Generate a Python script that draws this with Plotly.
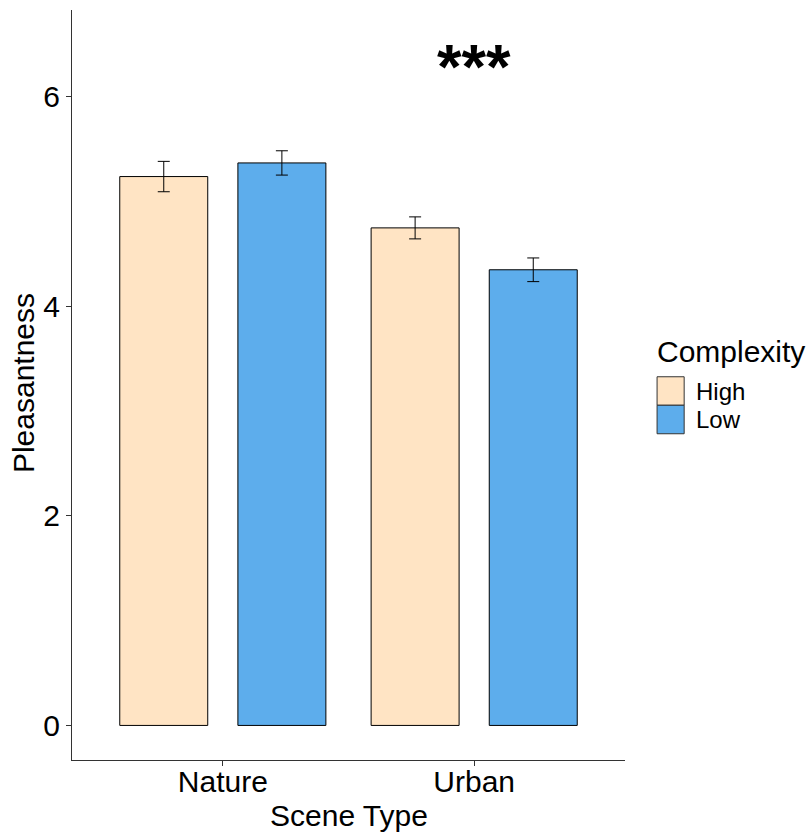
import plotly.graph_objects as go

# Mean pleasantness ratings by scene type and visual complexity (± SE)
scene_types = ["Nature", "Urban"]
complexity_levels = ["High", "Low"]
mean_high = [5.24, 4.75]
mean_low = [5.37, 4.35]
se_high = [0.145, 0.105]
se_low = [0.116, 0.113]
y_ticks = [0, 2, 4, 6]
signif_label = "***"
signif_y = 6.3

fill_colors = {"High": "#FFE4C4", "Low": "#5DADEC"}
font_family = "Liberation Sans, Arial, sans-serif"

bar_width = 0.35
dodge = 0.235

fig = go.Figure()
for level, means, errs, sign in [("High", mean_high, se_high, -1), ("Low", mean_low, se_low, 1)]:
    fig.add_trace(go.Bar(
        x=scene_types,
        y=means,
        name=level,
        width=bar_width,
        offset=sign * dodge - bar_width / 2,
        marker=dict(color=fill_colors[level], line=dict(color="black", width=1)),
        error_y=dict(type="data", array=errs, visible=True,
                     color="black", thickness=1, width=6),
        showlegend=False,
    ))

# significance marker over the Urban group
fig.add_annotation(
    x="Urban", y=signif_y, text=f"<b>{signif_label}</b>",
    showarrow=False, font=dict(size=63, color="black", family=font_family),
    xanchor="center", yanchor="middle",
)

# axis titles
fig.add_annotation(
    x=0.5, y=-0.074, xref="paper", yref="paper", text="Scene Type",
    showarrow=False, xanchor="center", yanchor="middle",
    font=dict(size=30, color="black", family=font_family),
)
fig.add_annotation(
    x=-0.088, y=0.503, xref="paper", yref="paper", text="Pleasantness",
    showarrow=False, xanchor="center", yanchor="middle", textangle=-90,
    font=dict(size=30, color="black", family=font_family),
)

# legend drawn as keyed boxes to the right of the panel
legend_x = 1.058
fig.add_annotation(
    x=legend_x - 0.003, y=0.544, xref="paper", yref="paper", text="Complexity",
    showarrow=False, xanchor="left", yanchor="middle",
    font=dict(size=30, color="black", family=font_family),
)
key_h = 0.038
for i, level in enumerate(complexity_levels):
    top = 0.511 - i * key_h
    fig.add_shape(
        type="rect", xref="paper", yref="paper",
        x0=legend_x, x1=legend_x + 0.049, y0=top - key_h, y1=top,
        fillcolor=fill_colors[level], line=dict(color="#333333", width=1),
    )
    fig.add_annotation(
        x=legend_x + 0.066, y=top - key_h / 2, xref="paper", yref="paper",
        text=level, showarrow=False, xanchor="left", yanchor="middle",
        font=dict(size=24, color="black", family=font_family),
    )

axis_common = dict(
    showline=True, linecolor="#333333", linewidth=1,
    ticks="outside", ticklen=5, tickcolor="#333333",
    showgrid=False, zeroline=False, automargin=False,
    tickfont=dict(size=30, color="black", family=font_family),
)

fig.update_layout(
    width=807, height=835,
    margin=dict(l=72, r=182, t=10, b=75),
    plot_bgcolor="white", paper_bgcolor="white",
    barmode="overlay",
    xaxis=dict(**axis_common, range=[-0.6, 1.6], ticklabelstandoff=-10),
    yaxis=dict(**axis_common, range=[-0.33, 6.83], tickvals=y_ticks),
)

fig.write_html("out.html")
